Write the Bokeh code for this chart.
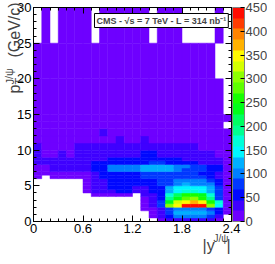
import colorsys
from bokeh.plotting import figure
from bokeh.models import (LinearColorMapper, ColorBar, FixedTicker, LinearAxis, Label,
                          ColumnDataSource, Range1d, CustomJSTickFormatter)
from bokeh.embed import file_html
from bokeh.resources import INLINE

# ---------------- data ----------------
y_edges = [0.0, 0.1, 0.2, 0.3, 0.4, 0.5, 0.6, 0.7, 0.8, 0.9, 1.0, 1.1, 1.2,
           1.3, 1.4, 1.5, 1.6, 1.7, 1.8, 1.9, 2.0, 2.1, 2.2, 2.3, 2.4]
pt_edges = [0, 0.5, 1, 1.5, 2, 2.5, 3, 3.5, 4, 4.5, 5, 5.5, 6, 6.5, 7, 7.5, 8,
            8.5, 9, 9.5, 10, 11, 12, 13, 14, 15, 20, 25, 30]

# counts per pT row (bottom -> top), 24 |y| columns each
counts = [
    [0]*15 + [20, 30, 40, 40, 40, 35, 30, 15, 0],
    [0]*14 + [10, 35, 60, 100, 110, 110, 100, 80, 40, 0],
    [0]*14 + [15, 40, 70, 115, 125, 125, 115, 90, 45, 5],
    [0]*13 + [10, 20, 35, 75, 100, 110, 110, 100, 80, 50, 5],
    [0]*13 + [15, 25, 70, 300, 350, 440, 445, 440, 300, 140, 10],
    [0]*13 + [15, 30, 75, 230, 330, 350, 360, 345, 270, 160, 10],
    [0]*13 + [20, 35, 55, 190, 240, 290, 300, 260, 190, 75, 10],
    [0]*7 + [15, 15, 15, 15, 15, 0] + [25, 40, 55, 170, 220, 250, 250, 230, 170, 70, 10],
    [0]*6 + [15, 30, 30, 40, 45, 45, 35, 35, 50, 60, 120, 150, 160, 160, 150, 120, 70, 10],
    [0]*6 + [15, 30, 35, 45, 50, 50, 40, 40, 50, 65, 115, 145, 150, 150, 140, 115, 70, 10],
    [0]*6 + [15, 30, 40, 50, 55, 55, 50, 50, 60, 70, 80, 110, 115, 110, 100, 90, 50, 10],
    [0]*6 + [15, 35, 40, 50, 55, 55, 55, 55, 60, 75, 80, 100, 105, 100, 95, 85, 50, 10],
    [15, 0, 15, 15, 15, 15, 20, 30, 45, 50, 55, 55, 60, 75, 80, 75, 75, 75, 80, 75, 70, 50, 30, 10],
    [15, 15, 18, 18, 18, 18, 20, 30, 45, 55, 55, 60, 60, 80, 85, 75, 75, 75, 75, 75, 65, 50, 30, 10],
    [20, 20, 25, 30, 30, 30, 35, 50, 55, 95, 100, 100, 110, 125, 130, 120, 120, 90, 85, 85, 70, 50, 45, 10],
    [20, 20, 25, 30, 30, 30, 35, 50, 55, 95, 100, 100, 110, 120, 125, 115, 115, 95, 90, 85, 75, 50, 45, 10],
    [35, 30, 30, 30, 35, 35, 40, 45, 45, 50, 50, 55, 55, 65, 70, 70, 50, 50, 45, 45, 40, 30, 25, 10],
    [30, 25, 25, 30, 30, 30, 35, 40, 40, 45, 45, 50, 50, 60, 65, 65, 45, 45, 40, 40, 35, 30, 25, 10],
    [30, 20, 20, 30, 20, 30, 30, 30, 30, 30, 30, 30, 35, 45, 45, 40, 35, 35, 35, 35, 25, 25, 20, 5],
    [30, 20, 20, 30, 20, 30, 30, 30, 30, 30, 30, 30, 35, 45, 45, 40, 35, 35, 35, 35, 25, 25, 20, 5],
    [25, 20, 20, 20, 20, 25, 25, 25, 25, 25, 25, 25, 25, 25, 25, 25, 25, 25, 25, 25, 15, 15, 15, 15],
    [15]*10 + [25, 15, 15, 25] + [15]*10,
    [15]*8 + [25] + [15]*15,
    [10]*23 + [0],
    [10]*24,
    [10]*23 + [0],
    [5]*22 + [0, 0],
    [0, 3, 0, 3, 3, 3, 3, 0, 3, 3, 3, 3, 3, 3, 0, 3, 3, 3, 0, 0, 0, 0, 3, 0],
]

x_ticks = [0, 0.6, 1.2, 1.8, 2.4]
y_ticks = [0, 5, 10, 15, 20, 25, 30]
z_ticks = [0, 50, 100, 150, 200, 250, 300, 350, 400, 450]
z_max = 450

# ---------------- palette (ROOT-like rainbow, 20 contours) ----------------
palette = []
for c in range(20):
    idx = int((c + 0.99) * 50 / 20)
    hue = 280.0 - (idx + 0.5) * 280.0 / 50
    r, g, b = colorsys.hls_to_rgb(hue / 360.0, 0.5, 1.0)
    palette.append("#%02x%02x%02x" % (int(round(r * 255)), int(round(g * 255)), int(round(b * 255))))

mapper = LinearColorMapper(palette=palette, low=0, high=z_max)

left, right, bottom, top, val = [], [], [], [], []
for i, row in enumerate(counts):
    for j, v in enumerate(row):
        if v > 0:
            left.append(y_edges[j]); right.append(y_edges[j + 1])
            bottom.append(pt_edges[i]); top.append(pt_edges[i + 1])
            val.append(v)
src = ColumnDataSource(dict(left=left, right=right, bottom=bottom, top=top, v=val))

FONT = "Liberation Sans"

# The frame covers the whole canvas; the axes are pinned with fixed_location so that
# the axis titles (drawn as Labels) are not clipped.
W, H = 267, 256
XL, XR = 33, 231          # canvas px of |y| = 0 and 2.4
YT, YB = 7, 221           # canvas px of pT = 30 and 0
sx = (XR - XL) / (x_ticks[-1] - x_ticks[0])
sy = (YB - YT) / (y_ticks[-1] - y_ticks[0])
xr = Range1d(x_ticks[0] - XL / sx, x_ticks[-1] + (W - XR) / sx)
yr = Range1d(y_ticks[0] - (H - YB) / sy, y_ticks[-1] + YT / sy)

def dx(px):   # canvas px -> data x
    return x_ticks[0] + (px - XL) / sx

def dy(py):   # canvas px -> data y
    return y_ticks[0] + (YB - py) / sy

p = figure(width=W, height=H, output_backend="svg", toolbar_location=None,
           x_range=xr, y_range=yr, x_axis_location=None, y_axis_location=None,
           min_border=0, background_fill_color="white", border_fill_color="white")
p.outline_line_color = None
p.grid.visible = False

p.quad(left="left", right="right", bottom="bottom", top="top", source=src,
       fill_color={"field": "v", "transform": mapper},
       line_color={"field": "v", "transform": mapper}, line_width=0.5)

fmt = CustomJSTickFormatter(code="return String(Math.round(tick*10)/10)")

def make_axis(ticks, minor, loc, labels):
    ax = LinearAxis(fixed_location=loc, bounds=(ticks[0], ticks[-1]))
    ax.ticker = FixedTicker(ticks=ticks, minor_ticks=minor)
    ax.major_tick_in = 6
    ax.major_tick_out = 0
    ax.minor_tick_in = 3
    ax.minor_tick_out = 0
    ax.axis_line_color = "black"
    ax.major_tick_line_color = "black"
    ax.minor_tick_line_color = "black"
    if labels:
        ax.major_label_text_font = FONT
        ax.major_label_text_font_size = "13px"
        ax.major_label_text_color = "black"
        ax.major_label_standoff = 2
        ax.formatter = fmt
    else:
        ax.major_label_text_font_size = "1px"
        ax.major_label_text_color = None
        ax.major_label_standoff = 0
    return ax

x_minor = [k / 10 for k in range(25)]
y_minor = list(range(31))
p.add_layout(make_axis(x_ticks, x_minor, y_ticks[0], True), "below")
p.add_layout(make_axis(y_ticks, y_minor, x_ticks[0], True), "left")
p.add_layout(make_axis(x_ticks, x_minor, y_ticks[-1], False), "above")
p.add_layout(make_axis(y_ticks, y_minor, x_ticks[-1], False), "right")

cb = ColorBar(color_mapper=mapper, ticker=FixedTicker(ticks=z_ticks), width=12, height=YB - YT,
              location=(XR + 1, H - YB), padding=0, margin=0, label_standoff=1,
              major_label_text_font=FONT, major_label_text_font_size="13px",
              major_tick_line_color="black", major_tick_in=4,
              bar_line_color="gray", border_line_color=None, background_fill_color=None)
p.add_layout(cb, "center")

# legend box
p.add_layout(Label(x=dx(94), y=dy(27), text="CMS - √s = 7 TeV - L = 314 nb⁻¹",
                   text_font=FONT, text_font_size="9px", text_font_style="bold",
                   text_baseline="bottom", background_fill_color="white",
                   border_line_color="black", border_line_width=1, padding=2))

# y axis title (rotated): p_T^{J/psi} (GeV/c)
ang = 1.5708
def ylab(px, py, text, size):
    p.add_layout(Label(x=dx(px), y=dy(py), angle=ang, text=text, text_font=FONT,
                       text_font_size=size, text_baseline="alphabetic"))
ylab(14, 93, "p", "16px")
ylab(18, 84, "T", "11px")
ylab(9, 84, "J/ψ", "11px")
ylab(14, 57, "(GeV/c)", "16px")

# x axis title: |y^{J/psi}|
def xlab(px, py, text, size):
    p.add_layout(Label(x=dx(px), y=dy(py), text=text, text_font=FONT, text_font_size=size,
                       text_baseline="alphabetic"))
xlab(202, 245, "|y", "16px")
xlab(213, 238, "J/ψ", "10px")
xlab(226, 245, "|", "16px")

open("out.html", "w").write(file_html(p, INLINE))
